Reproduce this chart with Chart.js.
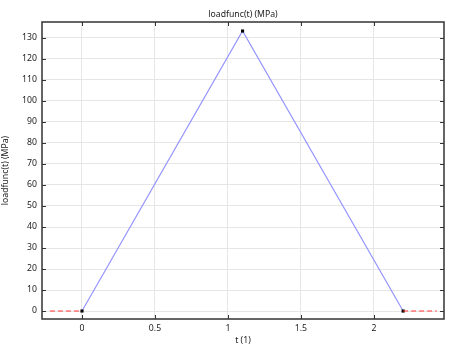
<!DOCTYPE html>
<html>
<head>
<meta charset="utf-8">
<script src="https://cdn.jsdelivr.net/npm/chart.js@4"></script>
<style>
  html, body { margin: 0; padding: 0; background: #fff; }
  #wrap { width: 456px; height: 346px; }
</style>
</head>
<body>
<div id="wrap"><canvas id="loadChart" width="456" height="346"></canvas></div>
<script>
// data
const tValues = [0, 1.1, 2.2];
const loadValues = [0, 133.3, 0];
const leftExtT = [-0.22, 0];
const leftExtV = [0, 0];
const rightExtT = [2.2, 2.43];
const rightExtV = [0, 0];
const xTickValues = [0, 0.5, 1, 1.5, 2];
const yTickValues = [0, 10, 20, 30, 40, 50, 60, 70, 80, 90, 100, 110, 120, 130];

const titleText = 'loadfunc(t) (MPa)';
const fontFamily = '"Noto Sans", sans-serif';
const fontSize = 8.7;

function toPoints(xs, ys) {
    return xs.map((x, i) => ({ x: x, y: ys[i] }));
}

// frame, inward ticks and title on top of the plot area
const framePlugin = {
    id: 'frame',
    afterDraw(chart) {
        const { ctx, chartArea: a, scales } = chart;
        ctx.save();
        ctx.strokeStyle = '#333';
        ctx.lineWidth = 1;
        const len = 4;
        ctx.beginPath();
        scales.x.ticks.forEach(t => {
            const px = Math.round(scales.x.getPixelForValue(t.value)) + 0.5;
            ctx.moveTo(px, a.bottom); ctx.lineTo(px, a.bottom - len);
            ctx.moveTo(px, a.top); ctx.lineTo(px, a.top + len);
        });
        scales.y.ticks.forEach(t => {
            const py = Math.round(scales.y.getPixelForValue(t.value)) + 0.5;
            ctx.moveTo(a.left, py); ctx.lineTo(a.left + len, py);
            ctx.moveTo(a.right, py); ctx.lineTo(a.right - len, py);
        });
        ctx.stroke();
        ctx.lineWidth = 1.5;
        ctx.strokeRect(a.left, a.top, a.right - a.left, a.bottom - a.top);

        ctx.fillStyle = '#222';
        ctx.font = fontSize + 'px ' + fontFamily;
        ctx.textAlign = 'center';
        ctx.textBaseline = 'bottom';
        ctx.fillText(titleText, (a.left + a.right) / 2, a.top - 3);
        ctx.restore();
    }
};

window.addEventListener('load', function () {
    const ctx = document.getElementById('loadChart').getContext('2d');
    new Chart(ctx, {
        type: 'scatter',
        data: {
            datasets: [
                {
                    label: 'left',
                    data: toPoints(leftExtT, leftExtV),
                    showLine: true,
                    borderColor: '#ff3333',
                    borderDash: [5, 3],
                    borderWidth: 1.2,
                    pointRadius: 0
                },
                {
                    label: 'right',
                    data: toPoints(rightExtT, rightExtV),
                    showLine: true,
                    borderColor: '#ff3333',
                    borderDash: [5, 3],
                    borderWidth: 1.2,
                    pointRadius: 0
                },
                {
                    label: titleText,
                    data: toPoints(tValues, loadValues),
                    showLine: true,
                    borderColor: '#9494ff',
                    borderWidth: 1.2,
                    pointStyle: 'rect',
                    pointRadius: 2.2,
                    pointBackgroundColor: '#000',
                    pointBorderColor: '#000',
                    pointBorderWidth: 0
                }
            ]
        },
        options: {
            responsive: false,
            animation: false,
            layout: { padding: { top: 22, right: 12, left: 0, bottom: 0 } },
            plugins: {
                legend: { display: false },
                tooltip: { enabled: false },
                title: { display: false }
            },
            scales: {
                x: {
                    type: 'linear',
                    min: -0.274,
                    max: 2.48,
                    afterBuildTicks: scale => { scale.ticks = xTickValues.map(v => ({ value: v })); },
                    afterFit: scale => { scale.height = 27; },
                    grid: { color: '#e6e6e6', drawTicks: false },
                    border: { display: false },
                    ticks: {
                        color: '#222',
                        padding: 4,
                        maxRotation: 0,
                        font: { family: fontFamily, size: fontSize },
                        callback: v => String(v)
                    },
                    title: {
                        display: true,
                        text: 't (1)',
                        color: '#222',
                        padding: { top: 0, bottom: 0 },
                        font: { family: fontFamily, size: fontSize }
                    }
                },
                y: {
                    type: 'linear',
                    min: -3.8,
                    max: 137.6,
                    afterBuildTicks: scale => { scale.ticks = yTickValues.map(v => ({ value: v })); },
                    afterFit: scale => { scale.width = 42; },
                    grid: { color: '#e6e6e6', drawTicks: false },
                    border: { display: false },
                    ticks: {
                        color: '#222',
                        padding: 5,
                        font: { family: fontFamily, size: fontSize },
                        callback: v => String(v)
                    },
                    title: {
                        display: true,
                        text: 'loadfunc(t) (MPa)',
                        color: '#222',
                        padding: { top: 0, bottom: 2 },
                        font: { family: fontFamily, size: fontSize }
                    }
                }
            }
        },
        plugins: [framePlugin]
    });
});
</script>
</body>
</html>
